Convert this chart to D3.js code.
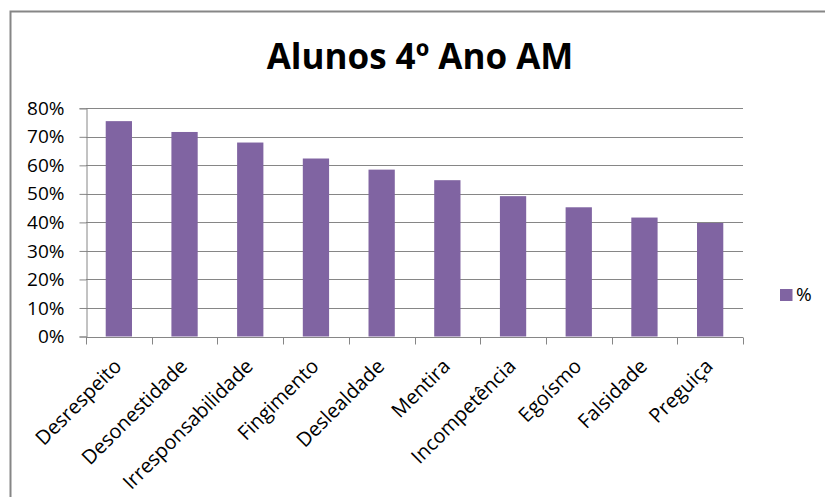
<!DOCTYPE html>
<html>
<head>
<meta charset="utf-8">
<script src="https://cdn.jsdelivr.net/npm/d3@7"></script>
<style>
  html, body { margin: 0; padding: 0; background: #fff; overflow: hidden; }
  svg { display: block; overflow: hidden; }
  text { font-family: "Open Sans", "DejaVu Sans", sans-serif; fill: #000; }
</style>
</head>
<body>
<svg id="chart" width="825" height="497"></svg>
<script>
// Categories (ranked) and share of students choosing each one
const categories = ["Desrespeito", "Desonestidade", "Irresponsabilidade", "Fingimento",
  "Deslealdade", "Mentira", "Incompetência", "Egoísmo", "Falsidade", "Preguiça"];
const percentValues = [75.5, 71.7, 68.0, 62.4, 58.5, 54.8, 49.2, 45.3, 41.7, 39.8];
const yTickValues = [0, 10, 20, 30, 40, 50, 60, 70, 80];
const seriesName = "%";
const chartTitle = "Alunos 4º Ano AM";

const svg = d3.select("#chart");
const barColor = "#8064A2";
const lineColor = "#868686";
const labelSize = "19px";

const plot = { left: 86, right: 743, top: 108.3, bottom: 336.5 };

// outer chart frame (only the top and left edges fall inside the canvas)
svg.append("path")
  .attr("d", "M10.5,497 V11.5 H825")
  .attr("fill", "none").attr("stroke", lineColor).attr("stroke-width", 2);

svg.append("text")
  .attr("x", 420).attr("y", 69)
  .attr("text-anchor", "middle")
  .style("font-size", "35px").style("font-weight", "bold")
  .text(chartTitle);

const x = d3.scaleBand()
  .domain(categories)
  .range([plot.left, plot.right])
  .paddingInner(0.6)
  .paddingOuter(0.3);

const y = d3.scaleLinear()
  .domain([0, 80])
  .range([plot.bottom, plot.top]);

// horizontal gridlines
svg.append("g")
  .selectAll("line")
  .data(yTickValues)
  .join("line")
  .attr("x1", plot.left).attr("x2", plot.right)
  .attr("y1", d => Math.round(y(d)) + 0.5).attr("y2", d => Math.round(y(d)) + 0.5)
  .attr("stroke", lineColor).attr("stroke-width", 1);

// y axis
const yAxis = svg.append("g")
  .attr("transform", `translate(${plot.left + 0.5},0)`)
  .call(d3.axisLeft(y).tickValues(yTickValues).tickFormat(d => d + "%").tickSize(7).tickPadding(15));
yAxis.attr("font-size", null).attr("font-family", null);
yAxis.selectAll("path, line").attr("stroke", lineColor);
yAxis.selectAll("text").style("font-size", labelSize).attr("fill", "#000");

// bars
svg.append("g")
  .selectAll("rect")
  .data(categories)
  .join("rect")
  .attr("x", d => x(d))
  .attr("width", x.bandwidth())
  .attr("y", (d, i) => y(percentValues[i]))
  .attr("height", (d, i) => y(0) - y(percentValues[i]))
  .attr("fill", barColor);

// x axis line and category boundary ticks
const step = x.step();
const axisY = Math.round(y(0)) + 0.5;
svg.append("line")
  .attr("x1", plot.left).attr("x2", plot.right)
  .attr("y1", axisY).attr("y2", axisY)
  .attr("stroke", lineColor);
svg.append("g")
  .selectAll("line")
  .data(d3.range(categories.length + 1))
  .join("line")
  .attr("x1", i => Math.round(plot.left + i * step) + 0.5)
  .attr("x2", i => Math.round(plot.left + i * step) + 0.5)
  .attr("y1", axisY).attr("y2", axisY + 7)
  .attr("stroke", lineColor);

// rotated category labels
svg.append("g")
  .selectAll("text")
  .data(categories)
  .join("text")
  .attr("text-anchor", "end")
  .attr("transform", d => `translate(${x(d) + x.bandwidth() / 2 + 4},${axisY + 30}) rotate(-45)`)
  .style("font-size", "20px")
  .text(d => d);

// legend
svg.append("rect")
  .attr("x", 780).attr("y", 289)
  .attr("width", 12.5).attr("height", 12)
  .attr("fill", barColor);
svg.append("text")
  .attr("x", 796).attr("y", 301)
  .style("font-size", labelSize)
  .text(seriesName);
</script>
</body>
</html>
